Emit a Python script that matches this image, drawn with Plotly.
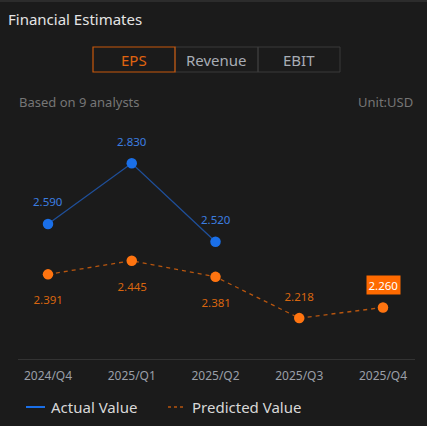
import plotly.graph_objects as go

# data
quarters = ["2024/Q4", "2025/Q1", "2025/Q2", "2025/Q3", "2025/Q4"]
actual_eps = [2.590, 2.830, 2.520, None, None]
predicted_eps = [2.391, 2.445, 2.381, 2.218, 2.260]
tabs = ["EPS", "Revenue", "EBIT"]

W, H = 427, 426
L, R, T, B = 18, 12, 100, 67

BG = "#1b1b1b"
BLUE = "#1a6fe8"
BLUE_LINE = "#1f4f99"
ORANGE = "#ff7410"
ORANGE_TXT = "#d9660f"


def px(x):
    return (x - L) / (W - L - R)


def py(y):
    return (H - B - y) / (H - T - B)


def label(x, y, text, size, color, anchor="left"):
    return dict(x=px(x), y=py(y), xref="paper", yref="paper", text=text,
                showarrow=False, xanchor=anchor, yanchor="middle",
                font=dict(color=color, size=size))


xs = list(range(len(quarters)))

fig = go.Figure()
fig.add_trace(go.Scatter(
    x=xs, y=actual_eps, mode="lines+markers", name="Actual Value",
    line=dict(color=BLUE_LINE, width=1.3),
    marker=dict(color=BLUE, size=10.5),
    showlegend=False, hoverinfo="skip",
))
fig.add_trace(go.Scatter(
    x=xs, y=predicted_eps, mode="lines+markers", name="Predicted Value",
    line=dict(color="#b8560f", width=1.3, dash="4px,4px"),
    marker=dict(color=ORANGE, size=10.5),
    showlegend=False, hoverinfo="skip",
))

annotations = []
# value labels
for i, v in enumerate(actual_eps):
    if v is None:
        continue
    annotations.append(dict(x=i, y=v, xref="x", yref="y", text=f"{v:.3f}",
                            showarrow=False, yshift=22, yanchor="middle",
                            font=dict(color="#3c7ee0", size=11.5)))
pred_below = [True, True, True, False, False]
for i, v in enumerate(predicted_eps):
    last = i == len(predicted_eps) - 1
    annotations.append(dict(
        x=i, y=v, xref="x", yref="y", text=f"{v:.3f}", showarrow=False,
        yshift=-25 if pred_below[i] else 22, yanchor="middle",
        font=dict(color="#ffffff" if last else ORANGE_TXT, size=11.5),
        bgcolor="#ff6a00" if last else None, borderpad=1.5,
    ))

# header texts
annotations += [
    label(6, 19, "Financial Estimates", 15, "#e4e4e4"),
    label(17, 102, "Based on 9 analysts", 13, "#767676"),
    label(415, 102, "Unit:USD", 13, "#767676", "right"),
]

shapes = [
    dict(type="line", xref="paper", yref="paper", x0=px(0), x1=px(W), y0=py(1), y1=py(1),
         line=dict(color="#2c2c2c", width=2)),
]

tab_edges = [93, 175, 258, 340]
for k, name in enumerate(tabs):
    x0, x1 = tab_edges[k], tab_edges[k + 1]
    active = k == 0
    if not active:
        shapes.append(dict(type="rect", xref="paper", yref="paper",
                           x0=px(x0), x1=px(x1), y0=py(72), y1=py(47),
                           line=dict(color="#3a3a3a", width=1)))
    annotations.append(label((x0 + x1) / 2, 60, name, 15,
                             "#e0640f" if active else "#a8adb5", "center"))
shapes.append(dict(type="rect", xref="paper", yref="paper",
                   x0=px(93), x1=px(175), y0=py(72), y1=py(47),
                   line=dict(color="#c8590c", width=1.2)))

# legend
shapes += [
    dict(type="line", xref="paper", yref="paper", x0=px(26), x1=px(45), y0=py(407), y1=py(407),
         line=dict(color=BLUE, width=2)),
    dict(type="line", xref="paper", yref="paper", x0=px(168), x1=px(186), y0=py(407), y1=py(407),
         line=dict(color="#b8560f", width=1.3, dash="3px,3px")),
]
annotations += [
    label(49, 407, "Actual Value", 15, "#d8d8d8"),
    label(190, 407, "Predicted Value", 15, "#d8d8d8"),
]

x_lo = (L - 48) / 83.75
x_hi = (W - R - 48) / 83.75

fig.update_layout(
    width=W, height=H,
    margin=dict(l=L, r=R, t=T, b=B),
    paper_bgcolor=BG, plot_bgcolor=BG,
    font=dict(family="Noto Sans, sans-serif"),
    xaxis=dict(range=[x_lo, x_hi], tickvals=xs, ticktext=quarters, showgrid=False,
               zeroline=False, showline=True, linecolor="#333333", linewidth=1,
               ticks="outside", ticklen=6, tickcolor=BG,
               tickfont=dict(color="#9a9fa8", size=12), fixedrange=True),
    yaxis=dict(range=[2.0564, 3.080], visible=False, showgrid=False, zeroline=False,
               fixedrange=True),
    annotations=annotations,
    shapes=shapes,
)

fig.write_html("out.html", config={"displayModeBar": False},
               post_script="document.body.style.margin='0';document.body.style.overflow='hidden';")
